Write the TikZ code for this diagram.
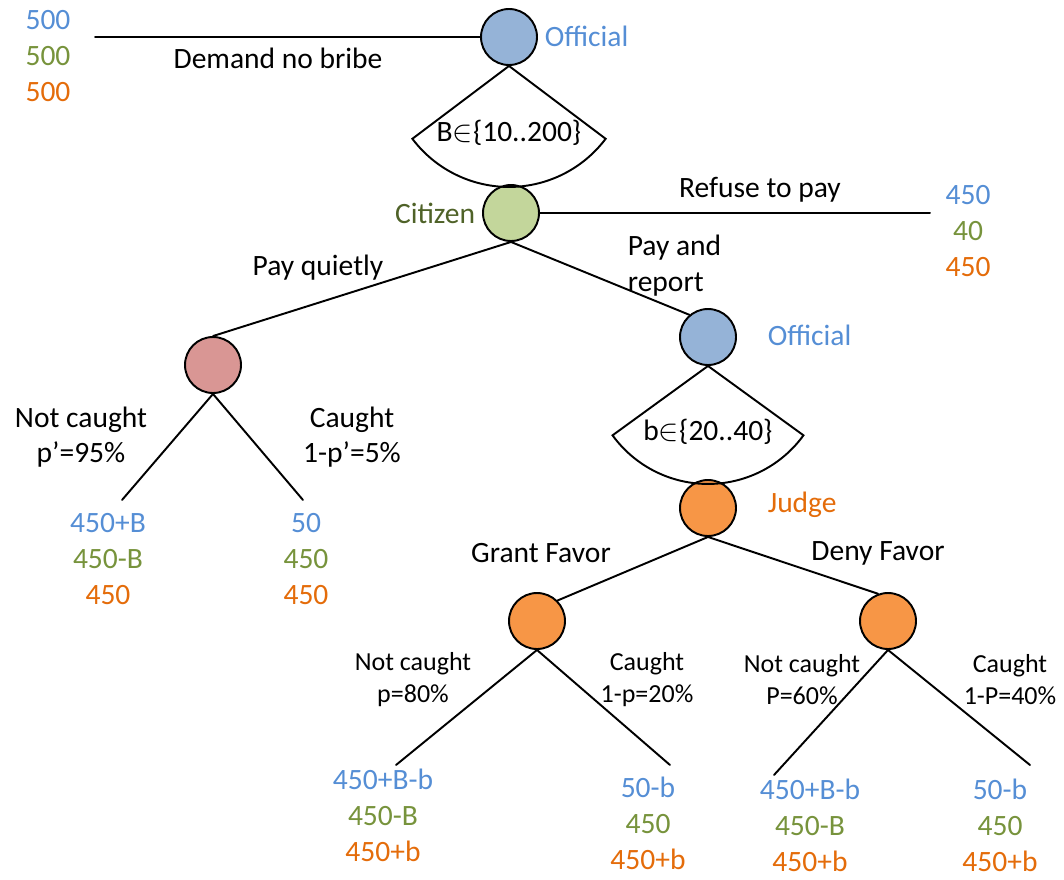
\documentclass[tikz,border=0pt]{standalone}
\usepackage{fontspec}
\setmainfont{Carlito}

\definecolor{offblue}{HTML}{558ED5}
\definecolor{offfill}{HTML}{95B3D7}
\definecolor{citgreen}{HTML}{77933C}
\definecolor{citdark}{HTML}{4F6228}
\definecolor{citfill}{HTML}{C3D69B}
\definecolor{judorange}{HTML}{E46C0A}
\definecolor{judfill}{HTML}{F79646}
\definecolor{redfill}{HTML}{D99694}

\newcommand{\payoffs}[3]{{\color{offblue}#1}\\{\color{citgreen}#2}\\{\color{judorange}#3}}

\begin{document}
\begin{tikzpicture}[%
        x = 0.02cm,
        y = -0.02cm,
        line width = 1.1pt,
        line cap = round,
        every node/.style = {%
            font = \fontsize{16.8}{20.5}\selectfont
        },
        player/.style = {
            circle,
            draw = black,
            line width = 1.1pt,
            minimum size = 1.12cm,
            inner sep = 0pt
        },
        payoff/.style = {
            align = center,
            font = \fontsize{16.8}{20.5}\selectfont
        },
        prob/.style = {
            align = center,
            font = \fontsize{16.8}{20}\selectfont
        },
        smallprob/.style = {
            align = center,
            font = \fontsize{14.8}{18.2}\selectfont
        }
    ]

        \useasboundingbox (0, 0) rectangle (1064, 879);

        % Decision nodes of the players.
        \node[player, fill = offfill] at (509, 37) (off1) {};
        \node[player, fill = citfill] at (511, 213) (cit) {};
        \node[player, fill = redfill] at (213, 365) (nat1) {};
        \node[player, fill = offfill] at (708, 337) (off2) {};
        \node[player, fill = judfill] at (708, 508) (jud) {};
        \node[player, fill = judfill] at (537, 621) (nat2) {};
        \node[player, fill = judfill] at (888, 621) (nat3) {};

        % Names of the players.
        \node[anchor = west, text = offblue] at (538, 36) (off1name) {Official};
        \node[anchor = east, text = citdark] at (482, 213) (citname) {Citizen};
        \node[anchor = west, text = offblue] at (761, 335) (off2name) {Official};
        \node[anchor = west, text = judorange] at (761, 505) (judname) {Judge};

        % Free ends of the terminal branches.
        \coordinate (dnb) at (95, 37);
        \coordinate (rtp) at (930, 213);
        \coordinate (t1) at (122, 500);
        \coordinate (t2) at (303, 500);
        \coordinate (t3) at (396, 765);
        \coordinate (t4) at (670, 765);
        \coordinate (t5) at (774, 775);
        \coordinate (t6) at (1030, 765);

        % Sectors for the choice of the bribe.
        \draw (off1.south) -- ++(143:121)
              arc [start angle = 143, end angle = 37, radius = 121] -- cycle;
        \draw (off2.south) -- ++(144:118)
              arc [start angle = 144, end angle = 36, radius = 118] -- cycle;
        \node at (509, 133) (bribe) {B$\in$\{10..200\}};
        \node at (708, 432) (extra) {b$\in$\{20..40\}};

        % Branches between the nodes.
        \draw (off1.west) -- (dnb);
        \draw (cit) -- (rtp);
        \draw (cit.south) -- (nat1.north);
        \draw (cit.south) -- (off2.130);
        \draw (nat1.south) -- (t1);
        \draw (nat1.south) -- (t2);
        \draw (jud.south) -- (nat2.45);
        \draw (jud.south) -- (nat3.110);
        \draw (nat2.south) -- (t3);
        \draw (nat2.south) -- (t4);
        \draw (nat3.south) -- (t5);
        \draw (nat3.south) -- (t6);

        % Labels of the actions.
        \node at (278, 58) (dnblabel) {Demand no bribe};
        \node at (760, 190) (rtplabel) {Refuse to pay};
        \node at (318, 268) (pqlabel) {Pay quietly};
        \node[align = left, anchor = west] at (621, 266) (parlabel) {Pay and\\report};
        \node at (541, 553) (gflabel) {Grant Favor};
        \node at (878, 553) (dflabel) {Deny Favor};

        % Labels of the chance moves.
        \node[prob] at (81, 437) (p1) {Not caught\\p’=95\%};
        \node[prob] at (352, 437) (p2) {Caught\\1-p’=5\%};
        \node[smallprob] at (413, 680) (p3) {Not caught\\p=80\%};
        \node[smallprob] at (647, 680) (p4) {Caught\\1-p=20\%};
        \node[smallprob] at (802, 680) (p5) {Not caught\\P=60\%};
        \node[smallprob] at (1010, 680) (p6) {Caught\\1-P=40\%};

        % Payoffs of official, citizen and judge.
        \node[payoff] at (48, 56) (u0) {\payoffs{500}{500}{500}};
        \node[payoff] at (968, 231) (u1) {\payoffs{450}{40}{450}};
        \node[payoff] at (108, 559) (u2) {\payoffs{450+B}{450-B}{450}};
        \node[payoff] at (306, 559) (u3) {\payoffs{50}{450}{450}};
        \node[payoff] at (383, 815) (u4) {\payoffs{450+B-b}{450-B}{450+b}};
        \node[payoff] at (648, 823) (u5) {\payoffs{50-b}{450}{450+b}};
        \node[payoff] at (810, 825) (u6) {\payoffs{450+B-b}{450-B}{450+b}};
        \node[payoff] at (1000, 825) (u7) {\payoffs{50-b}{450}{450+b}};
    \end{tikzpicture}
\end{document}
